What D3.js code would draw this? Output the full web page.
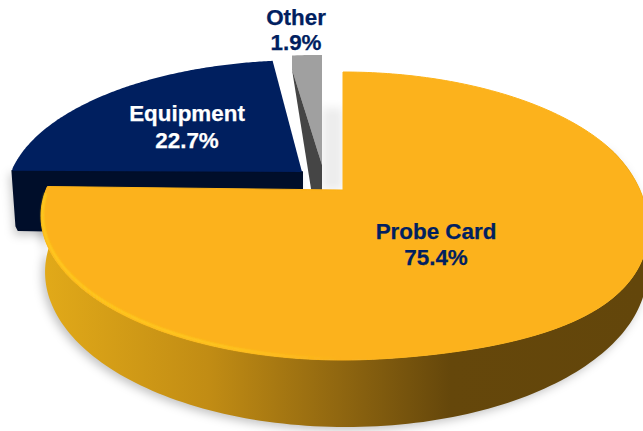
<!DOCTYPE html>
<html><head><meta charset="utf-8">
<script src="https://cdn.jsdelivr.net/npm/d3@7/dist/d3.min.js"></script>
<style>html,body{margin:0;padding:0;background:#fff;overflow:hidden}svg{display:block}
text{font-family:"Liberation Sans",Arial,sans-serif;font-weight:700;font-size:22.4px;text-anchor:middle;stroke-width:.25px}</style>
</head><body><svg id="c" width="643" height="431"></svg>
<script>
const categories = ["Probe Card", "Equipment", "Other"];
const shares = [75.4, 22.7, 1.9];

const K = 0.1806;
const TWO_PI = Math.PI * 2;
const svg = d3.select("#c");
const defs = svg.append("defs");

const arcs = d3.pie().value(d => d).sort(null)(shares);
const [probe, equip, other] = arcs;

// perspective projection of the pie plane, with an optional lens bulge on the lower right
const project = (o) => (theta) => {
  const u = Math.sin(theta), v = -Math.cos(theta), w = 1 - K * v;
  const t = (theta * 180 / Math.PI - 70) / 105;
  const s = o.bulge && t > 0 && t < 1 ? Math.sin(t * Math.PI) : 0;
  const bump = s * s;
  return [o.x + o.b * u / w + (o.bulge ? 5 : 0) * bump, o.y + o.a * v / w + (o.bulge || 0) * bump];
};
const rim = (p, a0, a1, n = 160) => d3.range(n + 1).map(i => p(a0 + (a1 - a0) * i / n));
const line = d3.line();
const poly = pts => line(pts) + "Z";

const topP = project({x: 343, y: 190, a: 139.3, b: 297, bulge: 13});
const botP = project({x: 346, y: 244, a: 150, b: 296});
const eqP = project({x: 302, y: 172, a: 132, b: 291});
const otP = project({x: 322, y: 165, a: 130, b: 297});

// defs
const blurF = (id, s) => defs.append("filter").attr("id", id).attr("x", "-10%").attr("y", "-10%")
  .attr("width", "120%").attr("height", "120%").append("feGaussianBlur").attr("stdDeviation", s);
blurF("blur", 5); blurF("soft", 0.9); blurF("edge", 0.5);
const wallG = defs.append("linearGradient").attr("id", "wall").attr("gradientUnits", "userSpaceOnUse")
  .attr("x1", 41).attr("x2", 643).attr("y1", 0).attr("y2", 0);
[[0, "#e2aa19"], [0.28, "#c18c14"], [0.5, "#8f6610"], [0.68, "#65470b"], [1, "#63460b"]]
  .forEach(([o, c]) => wallG.append("stop").attr("offset", o).attr("stop-color", c));
const rimG = defs.append("linearGradient").attr("id", "rimGlow").attr("gradientUnits", "userSpaceOnUse")
  .attr("x1", 41).attr("x2", 340).attr("y1", 0).attr("y2", 0);
[[0, "#ffd41f", 0.95], [0.6, "#ffd41f", 0.85], [1, "#ffd41f", 0]]
  .forEach(([o, c, a]) => rimG.append("stop").attr("offset", o).attr("stop-color", c).attr("stop-opacity", a));

// side wall silhouette of the large slice
const leftEnd = probe.endAngle;
const frontTop = rim(topP, Math.PI * 0.39, leftEnd);
const frontBot = rim(botP, Math.PI * 0.39, Math.PI * 1.5);
const wallPts = frontTop.concat(frontBot.reverse());

// soft shadows
const shadow = svg.append("g").attr("filter", "url(#blur)");
shadow.append("path").attr("d", poly(wallPts)).attr("fill", "#000").attr("opacity", 0.24)
  .attr("transform", "translate(-3,3)");
const eqL = eqP(equip.startAngle);
const eqCorner = [eqL[0], eqL[1] + 2];
const eqApex = [302, 172];
shadow.append("path").attr("d", poly([eqCorner, eqApex, [302, 232], [eqL[0] + 5, 232]])).attr("fill", "#000").attr("opacity", 0.22)
  .attr("transform", "translate(-3,3)");
const otEnd = otP(TWO_PI);
svg.append("path").attr("d", poly([[otEnd[0], 108], [343, 108], [343, 190], [otEnd[0], 190]]))
  .attr("fill", "#ececec").attr("filter", "url(#blur)");

// Other slice
const otA = otP(other.startAngle), otApex = [322, 165];
const otNotch = [otA[0], otA[1] + 14];
svg.append("path").attr("d", poly(rim(otP, other.startAngle, other.endAngle, 12).concat([otApex, otNotch])))
  .attr("fill", "#a0a0a0");
svg.append("path").attr("d", poly([otNotch, otApex, [otApex[0], otApex[1] + 30], [otA[0] + 20, otApex[1] + 30]]))
  .attr("fill", "#454545");

// Equipment slice
svg.append("path").attr("d", poly([eqCorner, eqApex, [302, 235], [eqL[0] + 6, 230], [eqL[0] + 4, 226]]))
  .attr("fill", "#000e2a").attr("stroke", "#000e2a").attr("stroke-linejoin", "round").attr("stroke-width", 2);
svg.append("path").attr("d", poly(rim(eqP, equip.startAngle, equip.endAngle).concat([eqApex, eqCorner]))).attr("fill", "#001f5f");

// Probe card slice
svg.append("path").attr("d", poly(wallPts)).attr("fill", "url(#wall)");
const probeTop = rim(topP, probe.startAngle, probe.endAngle, 240).concat([[343, 190]]);
svg.append("path").attr("d", poly(probeTop)).attr("fill", "#fcb21a").attr("filter", "url(#edge)")
  .attr("stroke", "#fcb21a").attr("stroke-width", 1).attr("stroke-linejoin", "round");
svg.append("path").attr("d", line(rim(topP, Math.PI * 0.98, leftEnd - 0.06, 120)))
  .attr("fill", "none").attr("stroke", "url(#rimGlow)").attr("stroke-width", 2)
  .attr("filter", "url(#soft)").attr("transform", "translate(1.5,-1.5)");

// Labels
const labelPos = [[436, 239, 265, "#002060"], [187, 121, 148, "#ffffff"], [296, 25, 50, "#002060"]];
arcs.forEach((d, i) => {
  const [x, y1, y2, c] = labelPos[i];
  svg.append("text").attr("x", x).attr("y", y1).attr("fill", c).attr("stroke", c).text(categories[i]);
  svg.append("text").attr("x", x).attr("y", y2).attr("fill", c).attr("stroke", c).text(d3.format(".1f")(d.data) + "%");
});
</script></body></html>
